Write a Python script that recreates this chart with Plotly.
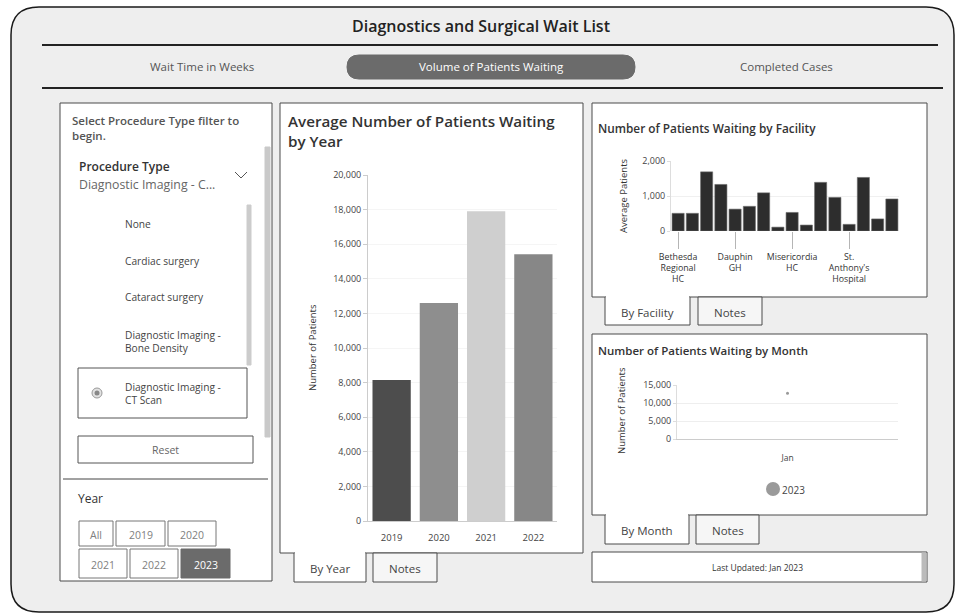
import plotly.graph_objects as go

# ---------------- data ----------------
years = ["2019", "2020", "2021", "2022"]
year_patients = [8150, 12600, 17900, 15420]
year_colors = ["#4d4d4d", "#8e8e8e", "#cfcfcf", "#878787"]

facilities = [
    "Bethesda Regional HC", "Boundary Trails HC", "Brandon RHC", "Concordia Hospital",
    "Dauphin GH", "Grace Hospital", "HSC Winnipeg", "Lakeshore GH",
    "Misericordia HC", "Pan Am Clinic", "Portage District GH", "Selkirk Regional HC",
    "St. Anthony's Hospital", "St. Boniface Hospital", "Swan Valley HC", "Victoria GH",
]
facility_patients = [505, 505, 1690, 1330, 625, 705, 1090, 110,
                     530, 170, 1390, 960, 190, 1530, 345, 915]
facility_ticks = ["Bethesda Regional HC", "Dauphin GH", "Misericordia HC", "St. Anthony's Hospital"]
facility_ticktext = ["Bethesda<br>Regional<br>HC", "Dauphin<br>GH", "Misericordia<br>HC",
                     "St.<br>Anthony's<br>Hospital"]

months = ["Jan"]
month_patients = [12700]
legend_year = "2023"

procedures = ["None", "Cardiac surgery", "Cataract surgery",
              "Diagnostic Imaging -<br>Bone Density", "Diagnostic Imaging -<br>CT Scan"]
year_buttons = ["All", "2019", "2020", "2021", "2022", "2023"]

# ---------------- helpers ----------------
W, H = 961, 615
FONT = "Open Sans"


def X(p):
    return p / W


def Y(p):
    return 1 - p / H


shapes = []
annots = []


def rect(x0, y0, x1, y1, fill="white", line="#4a4a4a", lw=1, layer="below"):
    shapes.append(dict(type="rect", xref="paper", yref="paper",
                       x0=X(x0), x1=X(x1), y0=Y(y0), y1=Y(y1),
                       fillcolor=fill, line=dict(color=line, width=lw), layer=layer))


def hline(x0, x1, y, color="#333", lw=1, layer="below"):
    shapes.append(dict(type="line", xref="paper", yref="paper",
                       x0=X(x0), x1=X(x1), y0=Y(y), y1=Y(y),
                       line=dict(color=color, width=lw), layer=layer))


def rounded(x0, y0, x1, y1, r, fill, line, lw):
    p = (f"M {X(x0+r)},{Y(y0)} L {X(x1-r)},{Y(y0)} Q {X(x1)},{Y(y0)} {X(x1)},{Y(y0+r)} "
         f"L {X(x1)},{Y(y1-r)} Q {X(x1)},{Y(y1)} {X(x1-r)},{Y(y1)} "
         f"L {X(x0+r)},{Y(y1)} Q {X(x0)},{Y(y1)} {X(x0)},{Y(y1-r)} "
         f"L {X(x0)},{Y(y0+r)} Q {X(x0)},{Y(y0)} {X(x0+r)},{Y(y0)} Z")
    shapes.append(dict(type="path", xref="paper", yref="paper", path=p,
                       fillcolor=fill, line=dict(color=line, width=lw), layer="below"))


def text(x, y, s, size=11, color="#333", xa="left", ya="middle", weight="normal", angle=0, align="left"):
    if xa == "left":
        x -= 2
    annots.append(dict(x=X(x), y=Y(y), xref="paper", yref="paper", text=s, showarrow=False,
                       xanchor=xa, yanchor=ya, align=align, textangle=angle,
                       font=dict(family=FONT, size=size, color=color, weight=weight)))


def tab(x0, x1, y0, y1, label, active):
    rect(x0, y0, x1, y1, fill="white" if active else "#f6f6f6", line="#4a4a4a")
    if active:
        hline(x0 + 0.8, x1 - 0.8, y0, color="white", lw=2)
    text((x0 + x1) / 2, (y0 + y1) / 2 + 1, label, size=11.5, color="#444", xa="center")


# ---------------- frame / header ----------------
rounded(11, 7, 954, 612, 28, "#eeeeee", "#1a1a1a", 1.5)
text(481, 26, "Diagnostics and Surgical Wait List", size=16, color="#222", xa="center", weight=600)
hline(42, 938, 45, color="#222", lw=2)
rounded(347, 55, 635, 79, 12, "#6b6b6b", "#6b6b6b", 1)
text(202, 67, "Wait Time in Weeks", size=11.5, color="#555", xa="center")
text(491, 67, "Volume of Patients Waiting", size=11.5, color="white", xa="center")
text(786, 67, "Completed Cases", size=11.5, color="#555", xa="center")
hline(42, 943, 88, color="#222", lw=2)

# ---------------- left filter panel ----------------
rect(60, 103, 272, 581)
text(72, 111, "Select Procedure Type filter to<br>begin.", size=11.5, color="#555", ya="top", weight=600)
rect(265, 147, 270, 437, fill="#c9c9c9", line="#c9c9c9")
text(79, 167, "Procedure Type", size=12, color="#333", weight=600)
text(79, 184, "Diagnostic Imaging - C...", size=12.3, color="#666")
shapes.append(dict(type="path", xref="paper", yref="paper",
                   path=f"M {X(235)},{Y(172)} L {X(241)},{Y(178)} L {X(247)},{Y(172)}",
                   line=dict(color="#555", width=1), layer="below"))
rect(247, 205, 251, 365, fill="#cccccc", line="#cccccc")
item_y = [224, 261, 297, 341, 393]
rect(78, 368, 247, 418, fill="white", line="#555")
for s, yy in zip(procedures, item_y):
    text(125, yy, s, size=10.2, color="#444")
shapes.append(dict(type="circle", xref="paper", yref="paper", x0=X(92), x1=X(102), y0=Y(388), y1=Y(398),
                   fillcolor="#e2e2e2", line=dict(color="#999", width=1), layer="below"))
shapes.append(dict(type="circle", xref="paper", yref="paper", x0=X(94.5), x1=X(99.5), y0=Y(390.5), y1=Y(395.5),
                   fillcolor="#888", line=dict(color="#888", width=0), layer="below"))
rect(78, 436, 253, 463, line="#555")
text(165, 450, "Reset", size=10.5, color="#666", xa="center")
hline(63, 268, 479, color="#444")
text(78, 498, "Year", size=12, color="#333")
btn_boxes = [(79, 113, 521, 546), (116, 165, 521, 546), (168, 216, 521, 546),
             (79, 127, 549, 578), (130, 178, 549, 578), (181, 230, 549, 578)]
for lbl, (bx0, bx1, by0, by1) in zip(year_buttons, btn_boxes):
    sel = lbl == "2023"
    rect(bx0, by0, bx1, by1, fill="#6b6b6b" if sel else "white", line="#6b6b6b" if sel else "#777")
    text((bx0 + bx1) / 2, (by0 + by1) / 2 + 1, lbl, size=10.5, color="white" if sel else "#808080", xa="center")

# ---------------- middle panel ----------------
rect(280, 103, 583, 553)
text(288, 109, "Average Number of Patients Waiting<br>by Year", size=15.2, color="#333", ya="top", weight=600)
text(313, 348, "Number of Patients", size=9.5, color="#333", xa="center", angle=-90)
tab(294, 366, 553, 582, "By Year", True)
tab(373, 437, 553, 582, "Notes", False)

# ---------------- right top panel ----------------
rect(592, 103, 927, 297)
text(598, 128, "Number of Patients Waiting by Facility", size=11.8, color="#333", weight=600)
text(623, 196, "Average Patients", size=9.5, color="#333", xa="center", angle=-90)
tab(605, 690, 297, 325, "By Facility", True)
tab(698, 762, 297, 325, "Notes", False)

# ---------------- right bottom panel ----------------
rect(592, 334, 927, 515)
text(598, 351, "Number of Patients Waiting by Month", size=11.5, color="#333", weight=600)
text(621, 411, "Number of Patients", size=9.5, color="#333", xa="center", angle=-90)
shapes.append(dict(type="circle", xref="paper", yref="paper", x0=X(766), x1=X(780), y0=Y(482), y1=Y(496),
                   fillcolor="#9a9a9a", line=dict(color="#9a9a9a", width=0), layer="below"))
text(782, 490, legend_year, size=10, color="#444")
tab(605, 689, 515, 544, "By Month", True)
tab(696, 759, 515, 544, "Notes", False)

rect(592, 552, 927, 582)
rect(922, 553, 926, 581, fill="#bbbbbb", line="#bbbbbb")
text(757, 567, "Last Updated: Jan 2023", size=8.5, color="#333", xa="center")

# ---------------- charts ----------------
fig = go.Figure()
fig.add_trace(go.Bar(x=years, y=year_patients, marker=dict(color=year_colors, line=dict(width=0)),
                     width=0.81, xaxis="x", yaxis="y", showlegend=False))
fig.add_trace(go.Bar(x=facilities, y=facility_patients,
                     marker=dict(color="#2d2d2d", line=dict(color="#6a6a6a", width=0.6)),
                     width=0.85, xaxis="x2", yaxis="y2", showlegend=False))
fig.add_trace(go.Scatter(x=months, y=month_patients, mode="markers", marker=dict(color="#999", size=3),
                         xaxis="x3", yaxis="y3", name=legend_year, showlegend=False))

tickf = dict(family=FONT, size=9, color="#444")
fig.update_layout(
    template="none",
    width=W, height=H, margin=dict(l=0, r=0, t=0, b=0, pad=0, autoexpand=False),
    paper_bgcolor="white", plot_bgcolor="rgba(0,0,0,0)",
    font=dict(family=FONT), shapes=shapes, annotations=annots, showlegend=False,
    xaxis=dict(domain=[X(368), X(557)], anchor="y", type="category", showline=True, linecolor="#cccccc",
               ticks="outside", ticklen=8, tickcolor="rgba(0,0,0,0)", tickfont=dict(family=FONT, size=9.5, color="#444"),
               showgrid=False, zeroline=False, automargin=False),
    yaxis=dict(domain=[Y(521), Y(175)], anchor="x", range=[0, 20000], dtick=2000, tickformat=",",
               showline=True, linecolor="#cccccc", ticks="outside", ticklen=4, tickcolor="#cccccc",
               showgrid=True, gridcolor="#f5f5f5", zeroline=False, tickfont=tickf, automargin=False),
    xaxis2=dict(domain=[X(671), X(899)], anchor="y2", type="category", showline=False,
                tickmode="array", tickvals=facility_ticks, ticktext=facility_ticktext,
                ticks="outside", ticklen=17, tickcolor="#b5b5b5", showgrid=False, zeroline=False,
                tickfont=dict(family=FONT, size=8.8, color="#333"), automargin=False),
    yaxis2=dict(domain=[Y(231), Y(161)], anchor="x2", range=[0, 2000], dtick=1000, tickformat=",",
                showline=True, linecolor="#dddddd", ticks="outside", ticklen=3, tickcolor="#dddddd",
                showgrid=True, gridcolor="#f0f0f0", zeroline=False, tickfont=tickf, automargin=False),
    xaxis3=dict(domain=[X(677), X(898)], anchor="y3", type="category", showline=True, linecolor="#cccccc",
                ticks="outside", ticklen=11, tickcolor="rgba(0,0,0,0)", showgrid=False, zeroline=False,
                tickfont=dict(family=FONT, size=8.5, color="#444"), automargin=False),
    yaxis3=dict(domain=[Y(439), Y(385)], anchor="x3", range=[0, 15000], dtick=5000, tickformat=",",
                showline=True, linecolor="#dddddd", ticks="outside", ticklen=3, tickcolor="#dddddd",
                showgrid=True, gridcolor="#eeeeee", zeroline=False, tickfont=tickf, automargin=False),
)

fig.write_html("out.html", config={"displayModeBar": False},
               post_script="document.body.style.margin='0';document.body.style.overflow='hidden';")
